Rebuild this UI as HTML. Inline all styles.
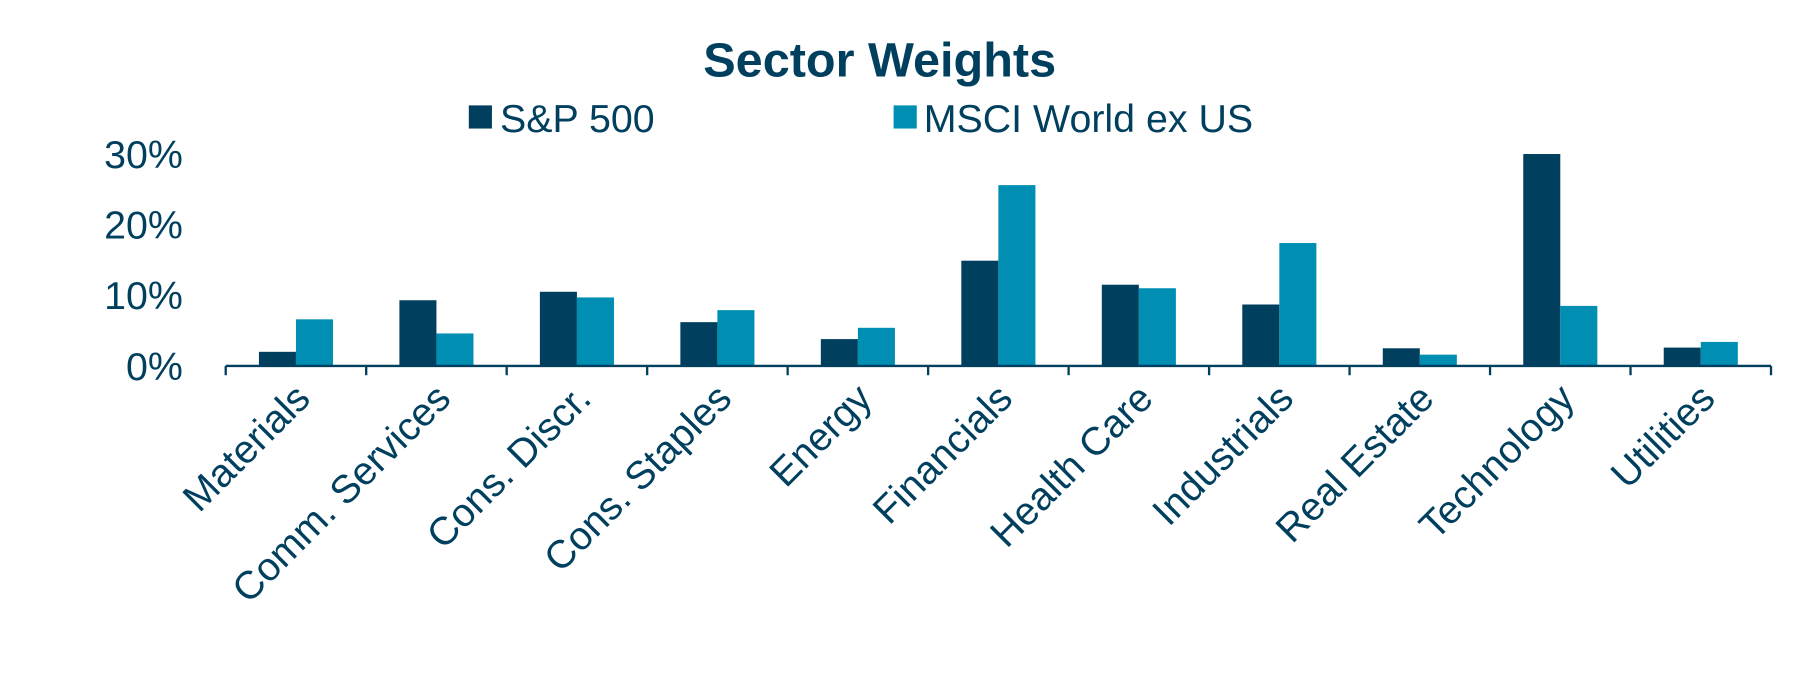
<!DOCTYPE html>
<html><head><meta charset="utf-8"><style>
body{margin:0;background:#fff}
svg{display:block}
svg text{font-family:"Liberation Sans",Arial,sans-serif;fill:#003f5e}
</style></head><body>
<svg width="1815" height="674" viewBox="0 0 1568 582" preserveAspectRatio="none" xmlns="http://www.w3.org/2000/svg">
<text x="760" y="66" font-size="42" font-weight="bold" text-anchor="middle">Sector Weights</text>
<g>
<rect x="405" y="91" width="20" height="20" fill="#003f5e"/>
<text x="432" y="114" font-size="34">S&amp;P 500</text>
<rect x="772" y="91" width="20" height="20" fill="#008fb3"/>
<text x="798" y="114" font-size="34">MSCI World ex US</text>
</g>
<g id="plot"></g>
</svg>
<script>
const categories=["Materials","Comm. Services","Cons. Discr.","Cons. Staples","Energy","Financials","Health Care","Industrials","Real Estate","Technology","Utilities"];
const sp500=[2.0,9.3,10.5,6.2,3.8,14.9,11.5,8.7,2.5,30.0,2.6];
const msci=[6.6,4.6,9.7,7.9,5.4,25.6,11.0,17.4,1.6,8.5,3.4];
const yTicks=[0,10,20,30];
const yTickLabels=["0%","10%","20%","30%"];
const NS="http://www.w3.org/2000/svg";
const g=document.getElementById('plot');
const x0=195,x1=1530,y0=316,pxPer=6.1;
const bw=(x1-x0)/categories.length,barW=32;
const y=v=>y0-v*pxPer;
const cx=i=>x0+bw*(i+0.5);
function mk(t,a){const e=document.createElementNS(NS,t);for(const k in a)e.setAttribute(k,a[k]);g.appendChild(e);return e;}
yTicks.forEach((v,i)=>{
 const t=mk('text',{x:158,y:y(v)+12,'font-size':34,'text-anchor':'end'});
 
 
 t.textContent=yTickLabels[i];
});
categories.forEach((c,i)=>{
 const b1=mk('rect',{x:cx(i)-barW,y:y(sp500[i]),width:barW,height:y0-y(sp500[i]),fill:'#003f5e'});
 
 
 const b2=mk('rect',{x:cx(i),y:y(msci[i]),width:barW,height:y0-y(msci[i]),fill:'#008fb3'});
 
 
 const t=mk('text',{x:0,y:0,'font-size':34,'text-anchor':'end',transform:`translate(${cx(i)+14},${y0+30}) rotate(-45)`});
 
 
 t.textContent=c;
});
for(let i=0;i<=categories.length;i++){
 const tk=mk('line',{x1:x0+bw*i,x2:x0+bw*i,y1:y0,y2:y0+8,stroke:'#003f5e','stroke-width':2});
 
 
}
const ax=mk('line',{x1:x0,x2:x1,y1:y0,y2:y0,stroke:'#003f5e','stroke-width':2});


</script>
</body></html>
